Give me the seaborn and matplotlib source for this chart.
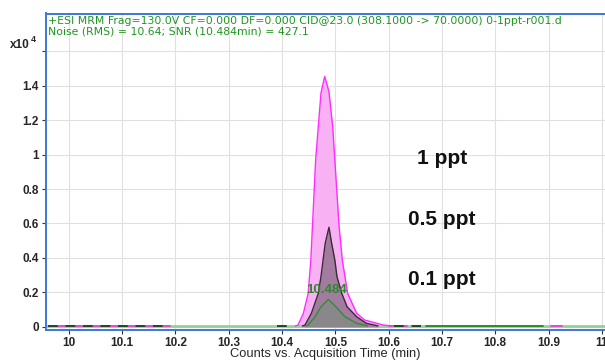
import numpy as np
import pandas as pd
import matplotlib
matplotlib.use("Agg")
import matplotlib.pyplot as plt
import seaborn as sns

# ---------------- data (intensity in units of 1e4 counts) ----------------
t_1ppt = [10.425, 10.430, 10.440, 10.449, 10.454, 10.457, 10.460, 10.463, 10.468,
          10.473, 10.480, 10.488, 10.495, 10.499, 10.503, 10.507, 10.513, 10.523, 10.540,
          10.555, 10.590, 10.605]
y_1ppt = [0.004, 0.010, 0.078, 0.194, 0.388, 0.582, 0.775, 0.969, 1.163,
          1.357, 1.454, 1.366, 1.163, 0.969, 0.775, 0.582, 0.388, 0.194, 0.078,
          0.039, 0.010, 0.005]

t_05ppt = [10.438, 10.443, 10.455, 10.468, 10.473, 10.477, 10.481, 10.488, 10.493,
           10.499, 10.503, 10.512, 10.522, 10.540, 10.558, 10.580]
y_05ppt = [0.004, 0.010, 0.078, 0.194, 0.291, 0.388, 0.485, 0.578, 0.485,
           0.388, 0.291, 0.194, 0.116, 0.058, 0.020, 0.005]

t_01ppt = [10.444, 10.449, 10.462, 10.473, 10.487, 10.501, 10.518, 10.540, 10.560]
y_01ppt = [0.004, 0.010, 0.058, 0.116, 0.159, 0.116, 0.058, 0.020, 0.005]

# baseline noise segments (NaN = gap)
t_noise_dark = [9.960, 10.190, np.nan, 10.390, 10.410, np.nan, 10.610, 10.660]
y_noise_dark = [0.006, 0.006, np.nan, 0.006, 0.006, np.nan, 0.006, 0.006]
t_noise_green = [10.670, 10.890]
y_noise_green = [0.006, 0.006]
t_noise_mag = [9.965, 10.190, np.nan, 10.600, 10.612, np.nan, 10.620, 10.635, np.nan, 10.905, 10.925]
y_noise_mag = [0.006, 0.006, np.nan, 0.006, 0.006, np.nan, 0.006, 0.006, np.nan, 0.006, 0.006]

conc_labels = ["1 ppt", "0.5 ppt", "0.1 ppt"]
rt_label = "10.484"
rt_value = 10.484
header1 = "+ESI MRM Frag=130.0V CF=0.000 DF=0.000 CID@23.0 (308.1000 -> 70.0000) 0-1ppt-r001.d"
header2 = "Noise (RMS) = 10.64; SNR (10.484min) = 427.1"
xticks = [10.0, 10.1, 10.2, 10.3, 10.4, 10.5, 10.6, 10.7, 10.8, 10.9, 11.0]
xticklabels = ["10", "10.1", "10.2", "10.3", "10.4", "10.5", "10.6", "10.7", "10.8", "10.9", "11"]
yticks = [0, 0.2, 0.4, 0.6, 0.8, 1.0, 1.2, 1.4, 1.6]
yticklabels = ["0", "0.2", "0.4", "0.6", "0.8", "1", "1.2", "1.4", ""]
xlabel = "Counts vs. Acquisition Time (min)"

# ---------------- style ----------------
sns.set_style("white")
plt.rcParams["font.family"] = ["Liberation Sans", "DejaVu Sans"]

fig = plt.figure(figsize=(6.05, 3.62), dpi=100)
ax = fig.add_axes([46 / 605, 1 - 330 / 362, (605 - 46) / 605, (330 - 13.5) / 362])

df1 = pd.DataFrame({"t": t_1ppt, "y": y_1ppt})
df05 = pd.DataFrame({"t": t_05ppt, "y": y_05ppt})
df01 = pd.DataFrame({"t": t_01ppt, "y": y_01ppt})

# fills
ax.fill_between(df1["t"], df1["y"], 0, color="#f8b2f4", lw=0, zorder=2)
ax.fill_between(df05["t"], df05["y"], 0, color="#a27c9f", lw=0, zorder=3)
ax.fill_between(df01["t"], df01["y"], 0, color="#8a878a", lw=0, zorder=4)

# baseline
ax.axhline(0.004, color="#92d492", lw=2.0, zorder=2.5)

sns.lineplot(data=df1, x="t", y="y", ax=ax, color="#ff2cff", lw=1.0, sort=False,
             estimator=None, zorder=5)
sns.lineplot(data=df05, x="t", y="y", ax=ax, color="#3a2a38", lw=1.0, sort=False,
             estimator=None, zorder=6)
sns.lineplot(data=df01, x="t", y="y", ax=ax, color="#2f8f2f", lw=1.0, sort=False,
             estimator=None, zorder=7)

ax.plot(t_noise_mag, y_noise_mag, color="#e040e0", lw=1.3, zorder=5.5)
ax.plot(t_noise_dark, y_noise_dark, color="#1f4a1f", lw=1.4, dashes=(5, 4), zorder=6)
ax.plot(t_noise_green, y_noise_green, color="#1f8a1f", lw=1.3, zorder=6)

ax.set_xlim(9.957, 11.006)
ax.set_ylim(-0.019, 1.82)
ax.set_xticks(xticks)
ax.set_xticklabels(xticklabels, fontsize=8.5, fontweight="bold")
ax.set_yticks(yticks)
ax.set_yticklabels(yticklabels, fontsize=8.5, fontweight="bold")
ax.grid(True, color="#e0e0e0", lw=0.8)
ax.set_axisbelow(True)
ax.tick_params(axis="both", which="both", direction="out", length=3, width=0.8,
               color="#333333", pad=2, bottom=True, left=True)
ax.set_xlabel(xlabel, fontsize=9.3, labelpad=-1)
ax.set_ylabel("")

for s in ["left", "bottom", "top"]:
    ax.spines[s].set_color("#3c78d8")
    ax.spines[s].set_linewidth(1.4)
ax.spines["right"].set_visible(False)

# header texts
fig.text(48 / 605, 1 - 24 / 362, header1, fontsize=7.85, family="DejaVu Sans",
         color="#1e961e", va="baseline", ha="left")
fig.text(48 / 605, 1 - 34.5 / 362, header2, fontsize=7.85, family="DejaVu Sans",
         color="#1e961e", va="baseline", ha="left")

# x10^4 label
fig.text(10 / 605, 1 - 48 / 362, "x10", fontsize=8.5, fontweight="bold", ha="left", va="baseline")
fig.text(31 / 605, 1 - 42 / 362, "4", fontsize=6.5, fontweight="bold", ha="left", va="baseline")

# concentration labels
for lab, yv in zip(conc_labels, [0.975, 0.625, 0.275]):
    ax.text(10.70, yv, lab, fontsize=15, fontweight="bold",
            ha="center", va="center", color="#111111", zorder=8)

ax.text(rt_value, 0.213, rt_label, fontsize=9.5, fontweight="bold", color="#2a8a2a",
        ha="center", va="center", zorder=8)

fig.savefig("out.png", dpi=100, facecolor="white")
